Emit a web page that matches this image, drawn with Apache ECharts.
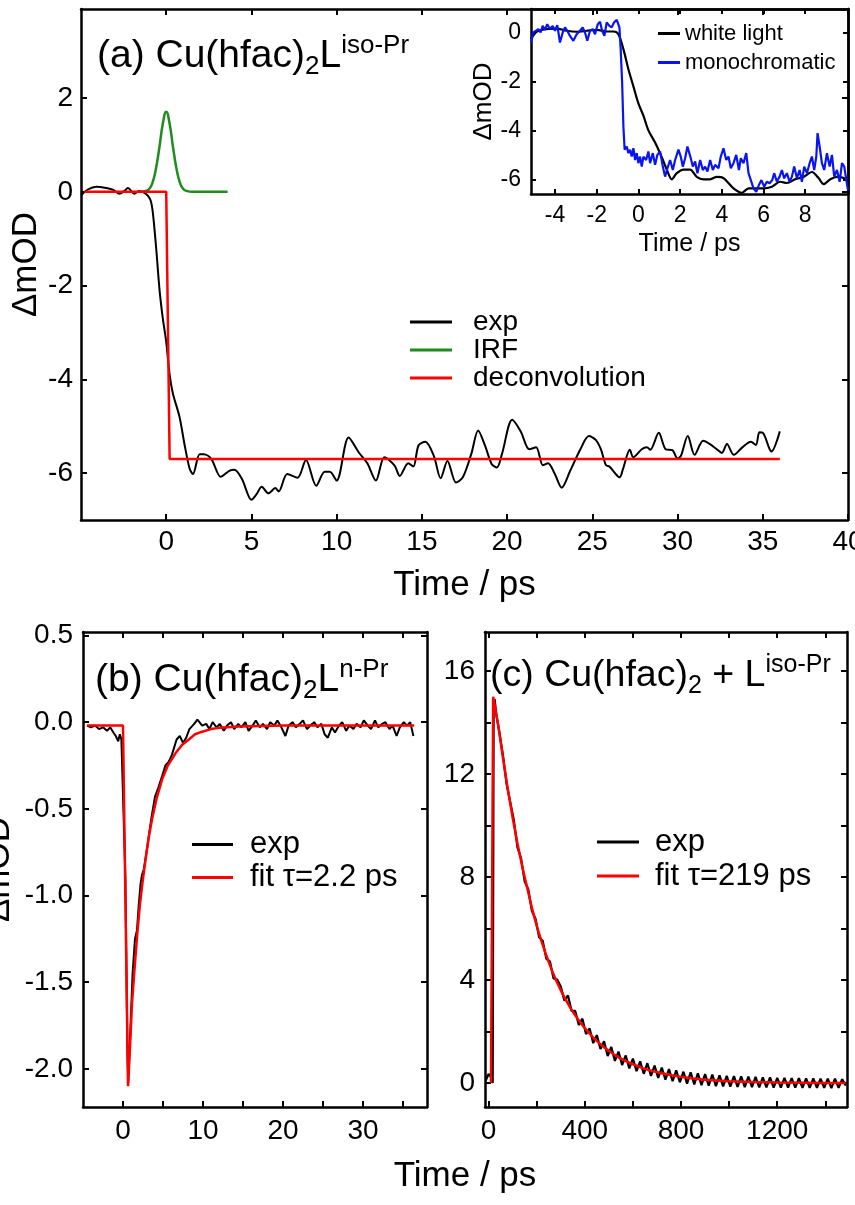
<!DOCTYPE html>
<html><head><meta charset="utf-8">
<script src="https://cdn.jsdelivr.net/npm/echarts@6/dist/echarts.min.js"></script>
<style>html,body{margin:0;padding:0;background:#fff}#c{width:855px;height:1205px}</style>
</head><body><div id="c"></div>
<script>
// ---------------- data ----------------
// panel (a): Cu(hfac)2L iso-Pr
const aExp = [[-5.0,-0.08],[-4.6,0.05],[-4.1,0.11],[-3.5,0.08],[-3.1,0.04],[-2.75,-0.04],[-2.45,0.02],[-2.25,0.08],[-1.86,-0.04],[-1.6,0.02],[-1.37,0.0],[-1.08,-0.08],[-0.9,-0.2],[-0.78,-0.46],[-0.59,-1.2],[-0.39,-2.1],[-0.2,-2.7],[0,-3.2],[0.2,-3.9],[0.39,-4.3],[0.78,-4.8],[1.08,-5.4],[1.37,-5.9],[1.57,-6.02],[1.96,-5.6],[2.2,-5.6],[2.65,-5.7],[3.2,-6.08],[3.7,-5.95],[4.0,-5.93],[4.45,-6.13],[5.0,-6.57],[5.3,-6.45],[5.6,-6.29],[6.0,-6.43],[6.4,-6.32],[6.6,-6.39],[7.1,-6.02],[7.7,-6.1],[8.2,-5.72],[8.8,-6.27],[9.3,-5.97],[9.6,-5.97],[10.0,-6.16],[10.7,-5.24],[11.3,-5.56],[11.8,-5.79],[12.3,-6.16],[12.8,-5.66],[13.4,-5.84],[13.7,-6.06],[14.2,-5.79],[14.5,-5.86],[14.8,-5.41],[15.2,-5.33],[15.7,-5.63],[16.1,-6.11],[16.5,-5.74],[17.0,-6.2],[17.4,-6.09],[17.9,-5.59],[18.3,-5.09],[18.7,-5.41],[19.1,-5.81],[19.4,-5.88],[19.7,-5.59],[20.3,-4.86],[20.8,-5.11],[21.3,-5.49],[21.7,-5.45],[22.1,-5.83],[22.4,-5.79],[22.8,-6.02],[23.2,-6.31],[23.7,-5.95],[24.3,-5.49],[24.8,-5.21],[25.2,-5.29],[25.5,-5.49],[25.8,-5.83],[26.0,-5.86],[26.6,-6.09],[26.8,-5.91],[27.2,-5.5],[27.4,-5.66],[27.9,-5.49],[28.2,-5.45],[28.4,-5.5],[28.9,-5.14],[29.3,-5.49],[29.7,-5.51],[30.0,-5.69],[30.2,-5.63],[30.6,-5.21],[31.0,-5.61],[31.5,-5.31],[31.9,-5.38],[32.3,-5.49],[32.6,-5.57],[32.9,-5.38],[33.3,-5.61],[33.8,-5.45],[34.3,-5.33],[34.6,-5.4],[34.8,-5.13],[35.0,-5.14],[35.4,-5.49],[35.5,-5.54],[36.0,-5.11]];
const aIRF = [[-1.6,0],[-1.2,0.02],[-1.0,0.06],[-0.8,0.2],[-0.6,0.5],[-0.4,0.95],[-0.2,1.45],[0,1.71],[0.2,1.45],[0.4,0.95],[0.6,0.5],[0.8,0.2],[1.0,0.06],[1.2,0.02],[1.5,0],[3.6,0]];
const aDeconv = [[-4.8,0],[0,0],[0.2,-5.7],[36,-5.7]];
const aXTicks = [0,5,10,15,20,25,30,35,40];
const aYTicks = [-6,-4,-2,0,2];

// inset
const insetWhite = [[-5.15,-0.27],[-4.88,0.03],[-4.4,0.14],[-3.92,0.16],[-3.44,0.07],[-2.96,0.03],[-2.48,0.07],[-2.0,0.11],[-1.52,0.04],[-1.2,0.04],[-0.96,-0.07],[-0.72,-0.68],[-0.48,-1.5],[-0.24,-2.2],[0,-2.9],[0.24,-3.4],[0.48,-4.0],[0.8,-4.5],[1.12,-5.1],[1.36,-5.6],[1.6,-6.0],[1.84,-5.75],[2.16,-5.6],[2.48,-5.6],[2.8,-5.9],[3.12,-6.0],[3.44,-6.0],[3.76,-5.9],[4.08,-5.95],[4.56,-6.37],[4.96,-6.55],[5.28,-6.37],[5.68,-6.37],[6.0,-6.37],[6.4,-6.3],[6.8,-6.1],[7.12,-6.15],[7.52,-6.0],[7.92,-5.9],[8.32,-5.7],[8.64,-5.95],[8.88,-6.2],[9.2,-6.0],[9.52,-5.9],[9.84,-5.95],[10.05,-6.1]];
const insetMono = [[-5.15,-0.41],[-5.04,0.0],[-4.91,0.07],[-4.8,0.14],[-4.69,0.0],[-4.59,0.27],[-4.48,0.11],[-4.37,0.34],[-4.24,0.14],[-4.11,0.27],[-4.0,0.07],[-3.89,0.3],[-3.76,-0.41],[-3.63,0.0],[-3.52,0.21],[-3.41,0.07],[-3.28,-0.14],[-3.12,-0.34],[-2.96,-0.07],[-2.8,0.07],[-2.67,0.21],[-2.56,0.0],[-2.45,-0.34],[-2.32,0.07],[-2.19,0.14],[-2.08,-0.07],[-1.95,0.34],[-1.84,0.44],[-1.74,0.07],[-1.63,-0.14],[-1.52,0.41],[-1.39,0.27],[-1.28,0.21],[-1.17,0.41],[-1.04,0.52],[-0.98,0.44],[-0.91,0.21],[-0.85,-0.68],[-0.78,-2.05],[-0.72,-3.84],[-0.66,-4.79],[-0.56,-4.66],[-0.48,-4.93],[-0.4,-4.79],[-0.32,-5.07],[-0.24,-4.73],[-0.16,-5.21],[-0.08,-4.93],[0,-5.34],[0.08,-5.07],[0.16,-5.48],[0.24,-5.07],[0.37,-5.21],[0.48,-4.86],[0.56,-5.34],[0.69,-4.93],[0.8,-5.41],[0.91,-5.0],[1.04,-4.86],[1.17,-5.48],[1.28,-5.89],[1.39,-5.55],[1.52,-5.21],[1.65,-5.62],[1.76,-5.21],[1.92,-4.79],[2.03,-5.07],[2.13,-5.48],[2.24,-5.14],[2.35,-4.66],[2.48,-5.04],[2.61,-5.48],[2.72,-5.27],[2.83,-5.75],[2.96,-5.21],[3.09,-5.62],[3.2,-5.48],[3.31,-5.68],[3.44,-5.21],[3.57,-5.62],[3.68,-5.41],[3.84,-5.55],[3.95,-5.07],[4.08,-4.73],[4.21,-5.21],[4.32,-5.07],[4.43,-5.55],[4.56,-5.34],[4.69,-5.0],[4.82,-5.62],[4.91,-5.14],[5.04,-5.34],[5.17,-4.93],[5.28,-5.75],[5.39,-6.03],[5.52,-6.37],[5.65,-6.51],[5.78,-6.23],[5.9,-6.03],[6.03,-6.3],[6.16,-6.1],[6.29,-6.16],[6.42,-6.03],[6.51,-5.75],[6.64,-6.1],[6.77,-5.89],[6.88,-5.62],[6.99,-5.96],[7.12,-5.75],[7.25,-6.1],[7.36,-5.89],[7.47,-5.48],[7.6,-5.96],[7.73,-5.62],[7.84,-6.1],[7.95,-5.48],[8.08,-5.75],[8.21,-5.34],[8.32,-5.07],[8.43,-5.62],[8.53,-5.07],[8.59,-4.11],[8.69,-4.66],[8.8,-5.34],[8.91,-5.62],[9.04,-4.93],[9.17,-5.48],[9.28,-5.0],[9.39,-5.89],[9.52,-5.62],[9.65,-6.1],[9.76,-5.34],[9.87,-5.48],[9.97,-6.03],[10.05,-6.44]];
const insetXTicks = [-4,-2,0,2,4,6,8];
const insetYTicks = [-6,-4,-2,0];

// panel (b): Cu(hfac)2L n-Pr
const bExp = [[-4.5,-0.02],[-4.0,-0.03],[-3.5,-0.02],[-3.0,-0.04],[-2.5,-0.03],[-2.0,-0.05],[-1.6,-0.03],[-1.2,-0.06],[-0.9,-0.08],[-0.6,-0.11],[-0.4,-0.07],[-0.2,-0.1],[0.0,-0.1],[0.3,-0.9],[0.55,-1.9],[0.65,-2.08],[0.9,-1.8],[1.2,-1.45],[1.5,-1.25],[1.75,-1.2],[1.96,-1.06],[2.2,-0.93],[2.38,-0.88],[2.6,-0.85],[2.8,-0.79],[3.1,-0.7],[3.4,-0.6],[3.6,-0.54],[4.0,-0.43],[4.4,-0.38],[4.9,-0.31],[5.3,-0.25],[5.7,-0.23],[6.1,-0.19],[6.7,-0.1],[7.1,-0.08],[7.5,-0.12],[7.9,-0.09],[8.3,-0.04],[8.9,-0.01],[9.3,0.015],[9.9,-0.02],[10.4,-0.01],[10.8,-0.04],[11.2,0.0],[11.7,-0.03],[12.1,-0.01],[12.6,-0.05],[13.0,-0.02],[13.5,0.0],[13.9,-0.04],[14.4,-0.01],[14.8,-0.03],[15.3,0.0],[15.7,-0.05],[16.2,-0.02],[16.6,0.01],[17.1,-0.03],[17.5,-0.01],[18.0,-0.04],[18.4,0.0],[18.9,-0.02],[19.3,0.01],[19.8,-0.03],[20.3,-0.08],[20.7,-0.02],[21.2,0.0],[21.6,-0.03],[22.1,-0.01],[22.5,0.01],[23.0,-0.04],[23.4,-0.02],[23.9,0.0],[24.3,-0.03],[24.8,-0.01],[25.2,-0.07],[25.6,-0.09],[26.1,-0.03],[26.5,-0.06],[27.0,-0.02],[27.4,0.0],[27.9,-0.05],[28.3,-0.02],[28.8,-0.04],[29.2,-0.01],[29.7,-0.03],[30.1,0.01],[30.6,-0.02],[31.0,-0.04],[31.5,0.01],[31.9,-0.03],[32.4,-0.01],[32.8,0.0],[33.3,-0.04],[33.7,-0.02],[34.2,-0.08],[34.6,-0.03],[35.1,0.0],[35.5,-0.02],[35.9,0.0],[36.3,-0.08]];
const bFit = [[-4.5,-0.02],[0.0,-0.02],[0.63,-2.1],[0.9,-1.85],[1.13,-1.62],[1.4,-1.45],[1.75,-1.24],[2.1,-1.06],[2.45,-0.92],[2.8,-0.8],[3.2,-0.67],[3.63,-0.56],[4.2,-0.44],[4.89,-0.33],[5.6,-0.25],[6.56,-0.18],[7.4,-0.13],[8.23,-0.1],[9.0,-0.07],[9.9,-0.055],[11,-0.04],[12,-0.033],[14.5,-0.025],[20,-0.02],[36.4,-0.02]];
const bXTicks = [0,5,10,15,20,25,30,35];
const bXLabels = [0,10,20,30];
const bYTicks = [-2,-1.5,-1,-0.5,0,0.5];

// panel (c): Cu(hfac)2 + L iso-Pr
const cExp = [[-12,0.1],[0,0.35],[12,0.2],[17,0.0],[21,14.6],[25,14.9],[32,14.3],[45,13.6],[60,12.7],[75,11.6],[90,10.9],[105,10.2],[120,9.15],[135,8.72],[150,7.82],[165,7.52],[180,6.68],[195,6.38],[210,5.66],[225,5.52],[240,4.82],[255,4.72],[270,4.06],[285,4.02],[300,3.75],[315,3.2],[330,3.4],[345,2.8],[360,2.8],[375,2.25],[390,2.5],[405,1.9],[420,2.12],[435,1.55],[450,1.86],[465,1.32],[480,1.62],[495,1.05],[510,1.4],[525,0.86],[540,1.22],[555,0.7],[570,1.07],[585,0.57],[600,0.95],[615,0.46],[630,0.84],[645,0.36],[660,0.77],[675,0.28],[690,0.68],[705,0.2],[720,0.6],[735,0.13],[750,0.54],[765,0.07],[780,0.49],[795,0.03],[810,0.44],[825,-0.02],[840,0.42],[855,-0.05],[870,0.38],[885,-0.08],[900,0.35],[915,-0.1],[930,0.33],[945,-0.12],[960,0.3],[975,-0.13],[990,0.28],[1005,-0.14],[1020,0.27],[1035,-0.15],[1050,0.26],[1065,-0.16],[1080,0.25],[1095,-0.16],[1110,0.24],[1125,-0.17],[1140,0.22],[1155,-0.17],[1170,0.22],[1185,-0.18],[1200,0.2],[1215,-0.18],[1230,0.2],[1245,-0.18],[1260,0.19],[1275,-0.18],[1290,0.19],[1305,-0.19],[1320,0.18],[1335,-0.19],[1350,0.18],[1365,-0.19],[1380,0.17],[1395,-0.19],[1410,0.17],[1425,-0.2],[1440,0.17],[1455,-0.19],[1470,0.15],[1485,-0.1]];
const cFit = [[10,0],[18,0],[19,15.0],[40,13.9],[60,12.6],[80,11.4],[100,10.3],[120,9.3],[140,8.4],[160,7.6],[180,6.8],[200,6.1],[220,5.5],[240,4.95],[260,4.45],[280,4.0],[300,3.6],[320,3.25],[340,2.92],[360,2.63],[380,2.37],[400,2.13],[420,1.92],[440,1.72],[460,1.55],[480,1.39],[500,1.25],[520,1.12],[540,1.0],[560,0.9],[580,0.81],[600,0.73],[640,0.58],[680,0.47],[720,0.38],[760,0.3],[800,0.24],[850,0.18],[900,0.13],[950,0.1],[1000,0.07],[1100,0.04],[1200,0.02],[1300,0.01],[1400,0.0],[1485,0.0]];
const cXTicks = [0,200,400,600,800,1000,1200,1400];
const cXLabels = [0,400,800,1200];
const cYTicks = [0,2,4,6,8,10,12,14,16];
const cYLabels = [0,4,8,12,16];

// ---------------- chart ----------------
const FONT = "'Liberation Sans', Arial, Helvetica, sans-serif";
const BLACK = '#000';

function xAxes(gi, range, ticks, labels, o) {
  const base = {
    type: 'value', gridIndex: gi, min: range[0], max: range[1],
    splitLine: {show: false},
    axisLine: {show: true, onZero: false, lineStyle: {color: BLACK, width: 2.5}},
    axisTick: {show: true, inside: true, length: o.tick, customValues: ticks, lineStyle: {color: BLACK, width: 2}}
  };
  return [
    Object.assign({}, base, {
      position: 'bottom',
      axisLabel: {show: true, customValues: labels, fontSize: o.fs, fontFamily: FONT, color: BLACK, margin: o.margin, formatter: o.fmt},
      name: o.name || '', nameLocation: 'middle', nameGap: o.nameGap || 0, nameMoveOverlap: false,
      nameTextStyle: {fontSize: o.nameFs, fontFamily: FONT, color: BLACK}
    }),
    Object.assign({}, base, {position: 'top', axisLabel: {show: false}})
  ];
}
function yAxes(gi, range, ticks, labels, o) {
  const base = {
    type: 'value', gridIndex: gi, min: range[0], max: range[1],
    splitLine: {show: false},
    axisLine: {show: true, onZero: false, lineStyle: {color: BLACK, width: 2.5}},
    axisTick: {show: true, inside: true, length: o.tick, customValues: ticks, lineStyle: {color: BLACK, width: 2}}
  };
  return [
    Object.assign({}, base, {
      position: 'left',
      axisLabel: {show: true, customValues: labels, fontSize: o.fs, fontFamily: FONT, color: BLACK, margin: o.margin, formatter: o.fmt},
      name: o.name || '', nameLocation: 'middle', nameGap: o.nameGap || 0, nameMoveOverlap: false,
      nameTextStyle: {fontSize: o.nameFs, fontFamily: FONT, color: BLACK}
    }),
    Object.assign({}, base, {position: 'right', axisLabel: {show: false}})
  ];
}
function line(name, data, gi, color, width, smooth) {
  return {
    name, type: 'line', data, xAxisIndex: 2 * gi, yAxisIndex: 2 * gi,
    showSymbol: false, symbol: 'none', smooth: smooth || false,
    lineStyle: {color, width}, itemStyle: {color}, animation: false, z: 3
  };
}
function legend(items, left, top, o) {
  return {
    orient: 'vertical', left, top, data: items, icon: 'rect', padding: 0,
    itemWidth: o.w, itemHeight: 3, itemGap: 0, selectedMode: false,
    textStyle: {fontSize: o.fs, fontFamily: FONT, color: BLACK, lineHeight: o.lh, padding: [0, 0, 0, o.pad]}
  };
}
function titleRich(text, left, top, fs) {
  const sub = Math.round(fs * 0.66);
  return {
    text, left, top, padding: 0,
    textStyle: {
      fontWeight: 'normal',
      rich: {
        n: {fontSize: fs, fontFamily: FONT, fontWeight: 'normal', color: BLACK, lineHeight: fs + 8},
        s: {fontSize: sub, fontFamily: FONT, fontWeight: 'normal', color: BLACK, verticalAlign: 'bottom', lineHeight: sub},
        p: {fontSize: sub, fontFamily: FONT, fontWeight: 'normal', color: BLACK, verticalAlign: 'top', lineHeight: sub}
      }
    }
  };
}

const fmt1 = v => v.toFixed(1);
const fmt0 = v => String(v);

const xA = xAxes(0, [-5, 40], aXTicks, aXTicks, {tick: 6, fs: 28, margin: 8, fmt: fmt0, name: 'Time / ps', nameGap: 48, nameFs: 35});
const yA = yAxes(0, [-7, 3.9], aYTicks, aYTicks, {tick: 6, fs: 28, margin: 8, fmt: fmt0, name: '\u0394mOD', nameGap: 37, nameFs: 35});
const xI = xAxes(1, [-5.15, 10.05], insetXTicks, insetXTicks, {tick: 5, fs: 23, margin: 10, fmt: fmt0, name: 'Time / ps', nameGap: 38, nameFs: 25});
const yI = yAxes(1, [-6.6, 0.96], insetYTicks, insetYTicks, {tick: 5, fs: 23, margin: 10, fmt: fmt0, name: '\u0394mOD', nameGap: 34, nameFs: 26});
const xB = xAxes(2, [-5, 38], bXTicks, bXLabels, {tick: 6, fs: 28, margin: 10, fmt: fmt0});
const yB = yAxes(2, [-2.22, 0.52], bYTicks, bYTicks, {tick: 6, fs: 28, margin: 10, fmt: fmt1, name: '\u0394mOD', nameGap: 66, nameFs: 35});
const xC = xAxes(3, [-15, 1490], cXTicks, cXLabels, {tick: 6, fs: 28, margin: 10, fmt: fmt0});
const yC = yAxes(3, [-0.93, 17.51], cYTicks, cYLabels, {tick: 6, fs: 28, margin: 10, fmt: fmt0});

const gridBase = {containLabel: false, outerBoundsMode: 'none'};
const option = {
  backgroundColor: '#fff',
  animation: false,
  grid: [
    Object.assign({left: 81, top: 9, width: 767, height: 511}, gridBase),
    Object.assign({left: 531, top: 9, width: 317, height: 185}, gridBase),
    Object.assign({left: 83, top: 632, width: 344, height: 475}, gridBase),
    Object.assign({left: 485, top: 632, width: 362, height: 475}, gridBase)
  ],
  xAxis: [].concat(xA, xI, xB, xC),
  yAxis: [].concat(yA, yI, yB, yC),
  title: [
    titleRich('{n|(a) Cu(hfac)}{s|2}{n|L}{p|iso-Pr}', 97, 33, 39),
    titleRich('{n|(b) Cu(hfac)}{s|2}{n|L}{p|n-Pr}', 95, 657, 39),
    titleRich('{n|(c) Cu(hfac)}{s|2}{n| + L}{p|iso-Pr}', 490, 653, 37.5)
  ],
  legend: [
    legend(['exp', 'IRF', 'deconvolution'], 410, 308, {w: 42, fs: 28, lh: 28, pad: 16}),
    legend(['white light', 'monochromatic'], 658, 19, {w: 22, fs: 22, lh: 29, pad: 0}),
    legend(['exp', 'fit \u03c4=2.2 ps'], 192, 828, {w: 41, fs: 31, lh: 33, pad: 12}),
    legend(['exp', 'fit \u03c4=219 ps'], 597, 825, {w: 42, fs: 31, lh: 34, pad: 11})
  ],
  graphic: [
    {type: 'text', x: 465, y: 1176, z: 10,
     style: {text: 'Time / ps', fill: BLACK, font: '35px ' + FONT, align: 'center', verticalAlign: 'middle', textAlign: 'center', textVerticalAlign: 'middle'}}
  ],
  series: [
    line('exp', aExp, 0, BLACK, 2, 0.3),
    line('IRF', aIRF, 0, '#1e8c1e', 2.5, true),
    line('deconvolution', aDeconv, 0, '#ff0000', 2.5),
    line('white light', insetWhite, 1, BLACK, 2.2, 0.3),
    line('monochromatic', insetMono, 1, '#0a14f0', 2.2),
    line('exp', bExp, 2, BLACK, 2),
    line('fit \u03c4=2.2 ps', bFit, 2, '#ff0000', 2.5),
    line('exp', cExp, 3, BLACK, 2.2),
    line('fit \u03c4=219 ps', cFit, 3, '#ff0000', 2.5)
  ]
};
const chart = echarts.init(document.getElementById('c'), null, {renderer: 'canvas', width: 855, height: 1205});
chart.setOption(option);
</script>
</body></html>
